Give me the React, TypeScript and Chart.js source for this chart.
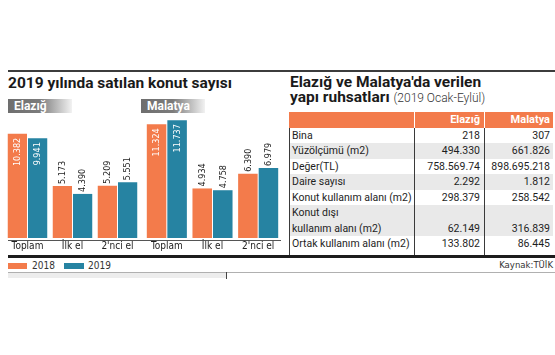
import React, { useEffect, useRef } from 'react';
import { Chart, registerables } from 'chart.js';

Chart.register(...registerables);

// ---------- data ----------
const subcategories = ['Toplam', 'İlk el', "2'nci el"];
const seriesYears = ['2018', '2019'];
const elazig2018 = [10382, 5173, 5209];
const elazig2019 = [9941, 4390, 5551];
const malatya2018 = [11324, 4934, 6390];
const malatya2019 = [11737, 4758, 6979];

const permitRowLabels = [
  'Bina',
  'Yüzölçümü (m2)',
  'Değer(TL)',
  'Daire sayısı',
  'Konut kullanım alanı (m2)',
  'Konut dışı\nkullanım alanı (m2)',
  'Ortak kullanım alanı (m2)',
];
const permitElazig = ['218', '494.330', '758.569.74', '2.292', '298.379', '62.149', '133.802'];
const permitMalatya = ['307', '661.826', '898.695.218', '1.812', '258.542', '316.839', '86.445'];

// ---------- style ----------
const ORANGE = '#F37B4B';
const TEAL = '#2683A2';
const NARROW = '"Liberation Sans Narrow", "DejaVu Sans Condensed", Roboto, sans-serif';
const SANS = 'Roboto, "Noto Sans", sans-serif';
const Y_MAX = 12150;
const CANVAS_TOP = 116;
const PLOT_H = 124;
const AXIS_H = 14;

const fmt = (v: number) => String(v).replace(/\B(?=(\d{3})+(?!\d))/g, '.');

const valueLabels = {
  id: 'valueLabels',
  afterDatasetsDraw(chart: any) {
    const ctx = chart.ctx;
    chart.data.datasets.forEach((ds: any, i: number) => {
      const meta = chart.getDatasetMeta(i);
      meta.data.forEach((bar: any, j: number) => {
        const v = ds.data[j] as number;
        const txt = fmt(v);
        ctx.save();
        ctx.translate(bar.x, bar.y);
        ctx.rotate(-Math.PI / 2);
        ctx.font = `9px ${NARROW}`;
        ctx.textBaseline = 'middle';
        if (v > 9000) {
          ctx.textAlign = 'right';
          ctx.fillStyle = '#ffffff';
          ctx.fillText(txt, -4, 0.5);
        } else {
          ctx.textAlign = 'left';
          ctx.fillStyle = '#222222';
          ctx.fillText(txt, 2, 0.5);
        }
        ctx.restore();
      });
    });
  },
};

function BarPanel({ a, b, left, width }: { a: number[]; b: number[]; left: number; width: number }) {
  const ref = useRef<HTMLCanvasElement>(null);
  useEffect(() => {
    const chart = new Chart(ref.current as HTMLCanvasElement, {
      type: 'bar',
      data: {
        labels: subcategories,
        datasets: [
          { label: seriesYears[0], data: a, backgroundColor: ORANGE, borderWidth: 0 },
          { label: seriesYears[1], data: b, backgroundColor: TEAL, borderWidth: 0 },
        ],
      },
      options: {
        responsive: false,
        animation: false,
        devicePixelRatio: 1,
        layout: { padding: 0 },
        plugins: { legend: { display: false }, tooltip: { enabled: false } },
        datasets: { bar: { categoryPercentage: 0.9, barPercentage: 0.95 } },
        scales: {
          x: {
            grid: { display: false, drawTicks: false },
            border: { display: false },
            ticks: {
              font: { family: NARROW, size: 10 },
              color: '#222',
              padding: 2,
              maxRotation: 0,
              autoSkip: false,
            },
          },
          y: { display: false, min: 0, max: Y_MAX },
        },
      } as any,
      plugins: [valueLabels],
    });
    return () => chart.destroy();
  }, []);
  return (
    <canvas
      ref={ref}
      width={width}
      height={PLOT_H + AXIS_H}
      style={{ position: 'absolute', left, top: CANVAS_TOP, width, height: PLOT_H + AXIS_H }}
    />
  );
}

const abs = (s: React.CSSProperties): React.CSSProperties => ({ position: 'absolute', ...s });

function CityTag({ text, left }: { text: string; left: number }) {
  return (
    <div
      style={abs({
        left,
        top: 99,
        width: 64,
        height: 14,
        background: 'linear-gradient(90deg, #6e6e6e 0%, #7c7c7c 50%, #f2f2f2 100%)',
        color: '#fff',
        font: `700 12px ${SANS}`,
        lineHeight: '14px',
        paddingLeft: 6,
        boxSizing: 'border-box',
        whiteSpace: 'nowrap',
      })}
    >
      {text}
    </div>
  );
}

function PermitTable() {
  const left = 289;
  const top = 112;
  const rowH = 15.5;
  const c1 = 125;
  const c2 = 70;
  const c3 = 69;
  let y = top + rowH;
  const rows = permitRowLabels.map((label, i) => {
    const lines = label.split('\n');
    const h = rowH * lines.length;
    const bg = i % 2 === 1 ? '#e9e9e9' : '#ffffff';
    const cell: React.CSSProperties = {
      position: 'absolute',
      top: 0,
      height: h,
      boxSizing: 'border-box',
      font: `400 10.5px ${SANS}`,
      color: '#1e1e1e',
      lineHeight: `${rowH}px`,
      whiteSpace: 'nowrap',
    };
    const el = (
      <div key={i} style={abs({ left, top: y, width: c1 + c2 + c3, height: h, background: bg })}>
        <div style={{ ...cell, left: 0, width: c1, paddingLeft: 3 }}>
          {lines.map((l, k) => (
            <div key={k}>{l}</div>
          ))}
        </div>
        <div style={{ ...cell, left: c1, width: c2, paddingRight: 4, textAlign: 'right', paddingTop: h - rowH }}>
          {permitElazig[i]}
        </div>
        <div style={{ ...cell, left: c1 + c2, width: c3, paddingRight: 3, textAlign: 'right', paddingTop: h - rowH }}>
          {permitMalatya[i]}
        </div>
      </div>
    );
    y += h;
    return el;
  });
  const header: React.CSSProperties = {
    position: 'absolute',
    top,
    height: rowH,
    background: ORANGE,
    color: '#fff',
    font: `700 11px ${SANS}`,
    lineHeight: `${rowH}px`,
    textAlign: 'right',
    boxSizing: 'border-box',
  };
  return (
    <>
      <div style={{ ...header, left, width: c1 }} />
      <div style={{ ...header, left: left + c1 + 1, width: c2 - 1, paddingRight: 4 }}>Elazığ</div>
      <div style={{ ...header, left: left + c1 + c2 + 1, width: c3 - 1, paddingRight: 3 }}>Malatya</div>
      {rows}
      <div style={abs({ left, top: top + rowH, width: 1, height: 255 - top - rowH, background: '#3a3a3a' })} />
      <div style={abs({ left: left + c1, top: top + rowH, width: 1, height: 255 - top - rowH, background: '#3a3a3a' })} />
      <div style={abs({ left: left + c1 + c2, top: top + rowH, width: 1, height: 255 - top - rowH, background: '#3a3a3a' })} />
    </>
  );
}

export default function App() {
  return (
    <div style={{ position: 'fixed', left: 0, top: 0, width: 555, height: 355, background: '#fff', overflow: 'hidden' }}>
      {/* top rule */}
      <div style={abs({ left: 8, top: 70, width: 547, height: 2, background: '#3c3c3c' })} />
      {/* left title */}
      <div style={abs({ left: 8, top: 76.8, font: `700 15.5px ${SANS}`, lineHeight: '13px', color: '#1a1a1a', whiteSpace: 'nowrap' })}>
        2019 yılında satılan konut sayısı
      </div>
      {/* right title (two lines, one text node) */}
      <div style={abs({ left: 290, top: 75.2, font: `700 15.5px ${SANS}`, lineHeight: '15.2px', color: '#1a1a1a', whiteSpace: 'pre' })}>
        {"Elazığ ve Malatya'da verilen\nyapı ruhsatları "}
        <span style={{ fontWeight: 300, fontSize: 12, color: '#333' }}>(2019 Ocak-Eylül)</span>
      </div>

      <CityTag text="Elazığ" left={8} />
      <CityTag text="Malatya" left={141} />

      <BarPanel a={elazig2018} b={elazig2019} left={5} width={135} />
      <BarPanel a={malatya2018} b={malatya2019} left={144} width={137} />
      {/* baseline */}
      <div style={abs({ left: 8, top: 240, width: 273, height: 1, background: '#555' })} />

      <PermitTable />

      {/* thick rule */}
      <div style={abs({ left: 8, top: 255, width: 547, height: 3, background: '#1c1c1c' })} />
      {/* legend */}
      <div style={abs({ left: 8, top: 263, width: 19, height: 6, background: ORANGE })} />
      <div style={abs({ left: 32, top: 259.5, font: `400 10px ${NARROW}`, lineHeight: '12px', color: '#333' })}>{seriesYears[0]}</div>
      <div style={abs({ left: 64, top: 263, width: 20, height: 6, background: TEAL })} />
      <div style={abs({ left: 88, top: 259.5, font: `400 10px ${NARROW}`, lineHeight: '12px', color: '#333' })}>{seriesYears[1]}</div>
      <div style={abs({ right: 2, top: 259, font: `400 9.5px ${NARROW}`, lineHeight: '12px', color: '#333' })}>Kaynak:TÜİK</div>
      {/* bottom rule */}
      <div style={abs({ left: 8, top: 272, width: 547, height: 1, background: '#b0b0b0' })} />
      <div style={abs({ left: 8, top: 273, width: 218, height: 5, background: '#ededed' })} />
      <div style={abs({ left: 226, top: 272, width: 1, height: 7, background: '#444' })} />
    </div>
  );
}
